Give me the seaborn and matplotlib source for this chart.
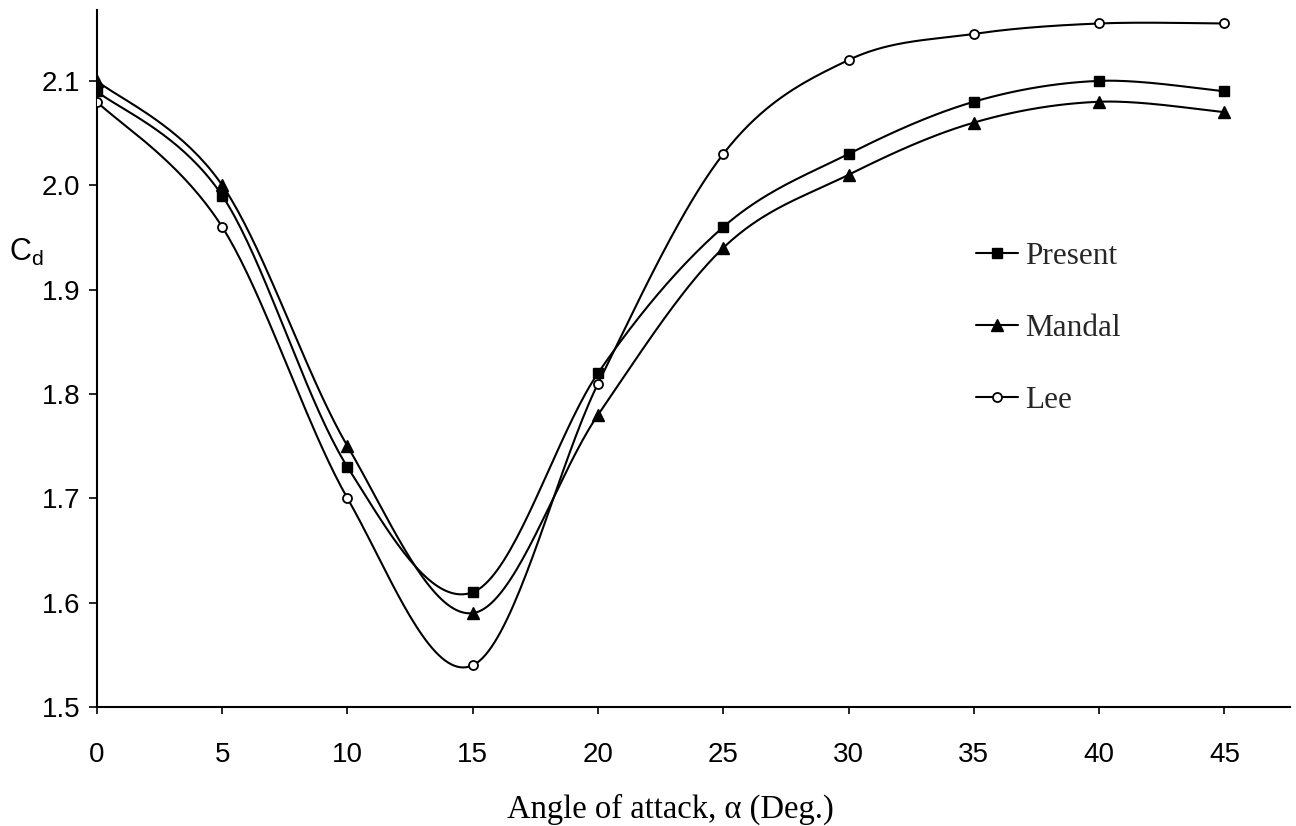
import numpy as np
import pandas as pd
import matplotlib
matplotlib.use("Agg")
import matplotlib.pyplot as plt
from matplotlib.lines import Line2D
import seaborn as sns

# ---- data ----
angle = [0, 5, 10, 15, 20, 25, 30, 35, 40, 45]
present = [2.09, 1.99, 1.73, 1.61, 1.82, 1.96, 2.03, 2.08, 2.10, 2.09]
mandal = [2.10, 2.00, 1.75, 1.59, 1.78, 1.94, 2.01, 2.06, 2.08, 2.07]
lee = [2.08, 1.96, 1.70, 1.54, 1.81, 2.03, 2.12, 2.145, 2.155, 2.155]
series_names = ["Present", "Mandal", "Lee"]
x_ticks = [0, 5, 10, 15, 20, 25, 30, 35, 40, 45]
y_ticks = [1.5, 1.6, 1.7, 1.8, 1.9, 2.0, 2.1]

sns.set_theme(style="ticks")
plt.rcParams["font.family"] = ["Liberation Sans", "DejaVu Sans"]


def smooth(xs, ys, n=40):
    """Excel-style smoothed line (cubic Bezier, Catmull-Rom control points)."""
    xs = np.asarray(xs, float)
    ys = np.asarray(ys, float)
    P = np.column_stack([xs, ys])
    out = []
    m = len(P)
    for i in range(m - 1):
        p0 = P[i - 1] if i > 0 else P[i]
        p1 = P[i]
        p2 = P[i + 1]
        p3 = P[i + 2] if i + 2 < m else P[i + 1]
        b1 = p1 + (p2 - p0) / 6.0
        b2 = p2 - (p3 - p1) / 6.0
        t = np.linspace(0, 1, n, endpoint=(i == m - 2))[:, None]
        seg = ((1 - t) ** 3) * p1 + 3 * ((1 - t) ** 2) * t * b1 + 3 * (1 - t) * t ** 2 * b2 + t ** 3 * p2
        out.append(seg)
    arr = np.vstack(out)
    return arr[:, 0], arr[:, 1]


fig = plt.figure(figsize=(12.96, 8.26), dpi=100)
ax = fig.add_axes([0.0748, 0.144, 0.9202, 0.844])

styles = {
    "Present": dict(marker="s", ms=7, mfc="black", mec="black"),
    "Mandal": dict(marker="^", ms=8.5, mfc="black", mec="black"),
    "Lee": dict(marker="o", ms=6.5, mfc="white", mec="black", mew=1.3),
}
data = {"Present": present, "Mandal": mandal, "Lee": lee}

for name in series_names:
    sx, sy = smooth(angle, data[name])
    dense = pd.DataFrame({"x": sx, "y": sy})
    sns.lineplot(data=dense, x="x", y="y", ax=ax, color="black", lw=1.5,
                 sort=False, estimator=None)
    pts = pd.DataFrame({"x": angle, "y": data[name]})
    ax.plot(pts["x"], pts["y"], linestyle="none", zorder=3, **styles[name])

ax.set_xlim(0, 47.6)
ax.set_ylim(1.5, 2.168)
ax.set_xticks(x_ticks)
ax.set_yticks(y_ticks)
ax.set_xticklabels([str(v) for v in x_ticks])
ax.set_yticklabels([f"{v:.1f}" for v in y_ticks])
sns.despine(ax=ax)
for s in ["left", "bottom"]:
    ax.spines[s].set_linewidth(1.5)
    ax.spines[s].set_color("black")
ax.tick_params(axis="y", direction="out", length=6, width=1.2, pad=6,
               labelsize=20, colors="black")
ax.tick_params(axis="x", direction="out", length=5, width=1.2, pad=20,
               labelsize=20, colors="black")

ax.set_xlabel("Angle of attack, α (Deg.)", fontsize=23.5, family="Liberation Serif",
              color="black")
ax.xaxis.set_label_coords(0.481, -0.125)
ax.set_ylabel("C$_\\mathregular{d}$", fontsize=22, family="Liberation Sans",
              rotation=0, color="black", ha="center", va="center")
ax.yaxis.set_label_coords(-0.0595, 0.6528)

handles = [Line2D([0], [0], color="black", lw=1.5, **styles[n]) for n in series_names]
leg = ax.legend(handles, series_names, loc="upper left", bbox_to_anchor=(0.737, 0.667),
                frameon=False, prop={"family": "Liberation Serif", "size": 22.5},
                handlelength=1.35, handletextpad=0.22, labelspacing=1.38, borderpad=0,
                borderaxespad=0)

fig.savefig("out.png", dpi=100, facecolor="white")
